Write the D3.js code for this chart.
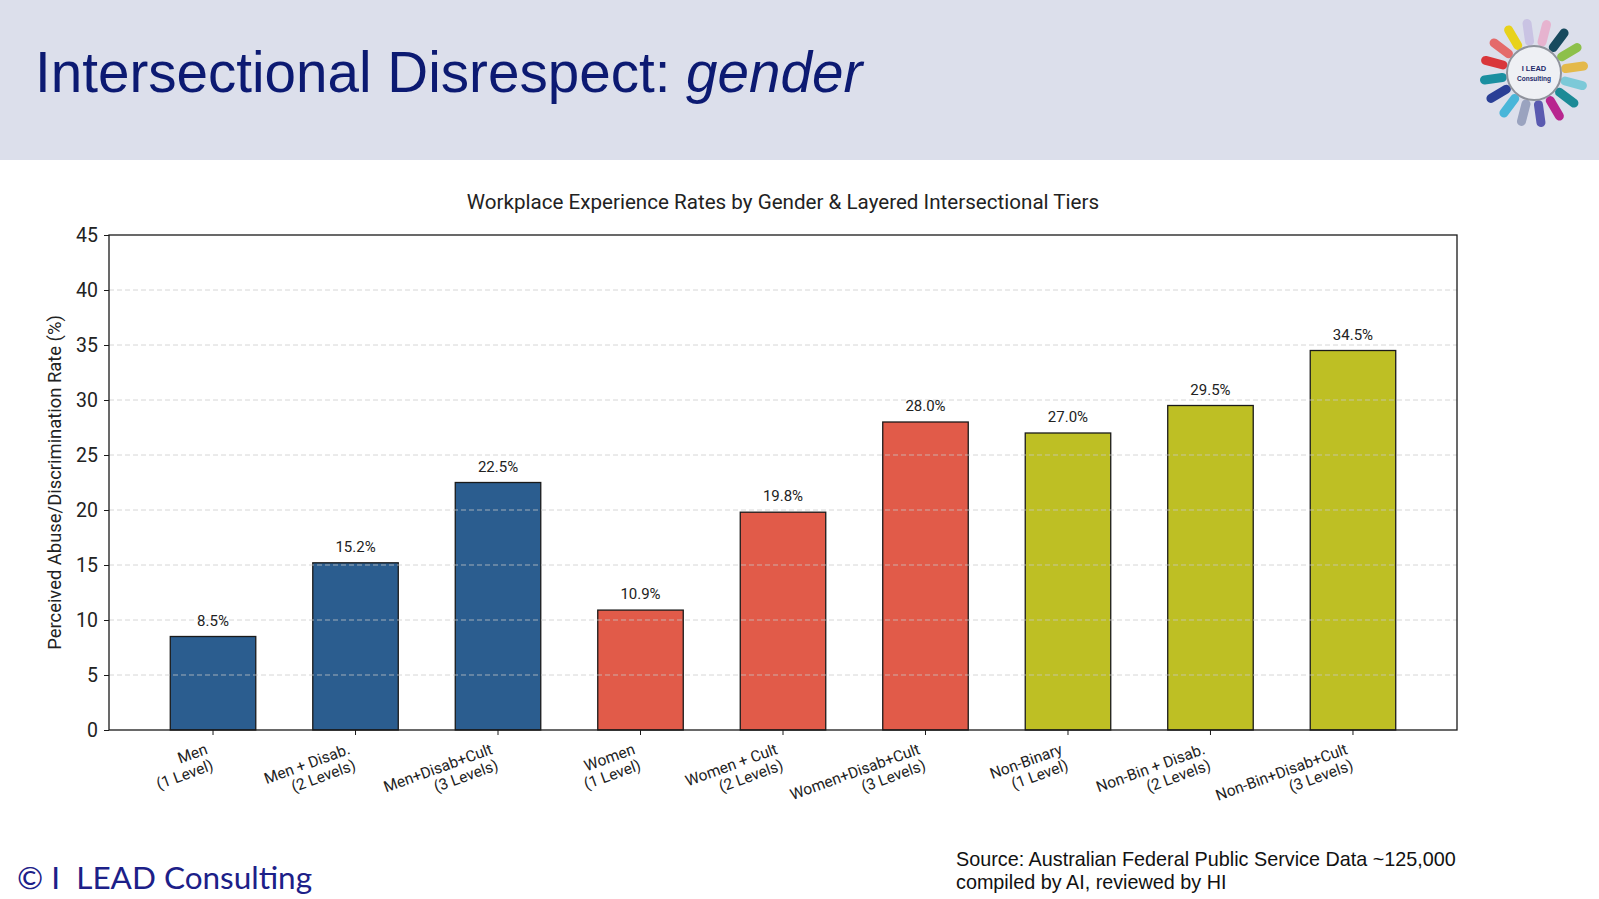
<!DOCTYPE html>
<html>
<head>
<meta charset="utf-8">
<script src="https://cdn.jsdelivr.net/npm/d3@7"></script>
<style>
  body { margin: 0; background: #fff; }
  svg { display: block; }
</style>
</head>
<body>
<svg id="chart" width="1599" height="899"></svg>
<script>
// categories (two-line tick labels) and values
var categories = [
  ["Men", "(1 Level)"],
  ["Men + Disab.", "(2 Levels)"],
  ["Men+Disab+Cult", "(3 Levels)"],
  ["Women", "(1 Level)"],
  ["Women + Cult", "(2 Levels)"],
  ["Women+Disab+Cult", "(3 Levels)"],
  ["Non-Binary", "(1 Level)"],
  ["Non-Bin + Disab.", "(2 Levels)"],
  ["Non-Bin+Disab+Cult", "(3 Levels)"]
];
var rates = [8.5, 15.2, 22.5, 10.9, 19.8, 28.0, 27.0, 29.5, 34.5];
var groups = ["Men", "Men", "Men", "Women", "Women", "Women", "Non-Binary", "Non-Binary", "Non-Binary"];
var groupColors = {"Men": "#2b5d8f", "Women": "#e15b49", "Non-Binary": "#bebf24"};
var yTicks = [0, 5, 10, 15, 20, 25, 30, 35, 40, 45];
var logoColors = ["#c9c3e3", "#e6b3cf", "#174a5e", "#8dc04a", "#e4b94a", "#7cc9d8", "#1b8a96", "#b8268f",
                  "#5a5ab0", "#9aa3bf", "#49b6d9", "#2a3f96", "#1a8fa0", "#d9363a", "#e46a6a", "#e8d21a"];

var svg = d3.select("#chart");
var chartFont = "Roboto, 'Open Sans', sans-serif";

// header band
svg.append("rect")
  .attr("x", 0).attr("y", 0)
  .attr("width", 1599).attr("height", 160)
  .attr("fill", "#dcdfeb");

var title = svg.append("text")
  .attr("x", 35).attr("y", 92)
  .attr("font-family", "'Liberation Sans', Arial, sans-serif")
  .attr("font-size", "56.6px")
  .attr("fill", "#0c1a72");
title.append("tspan").text("Intersectional Disrespect: ");
title.append("tspan").attr("font-style", "italic").text("gender");

// logo: ring of coloured strokes round a small circle
var logo = svg.append("g").attr("transform", "translate(1534,73)");
logo.selectAll(".ray")
  .data(logoColors)
  .enter().append("line")
    .attr("class", "ray")
    .attr("x1", function(d, i) { return 32 * Math.sin((-8 + i * 22.5) * Math.PI / 180); })
    .attr("y1", function(d, i) { return -32 * Math.cos((-8 + i * 22.5) * Math.PI / 180); })
    .attr("x2", function(d, i) { return 50 * Math.sin((-8 + i * 22.5) * Math.PI / 180); })
    .attr("y2", function(d, i) { return -50 * Math.cos((-8 + i * 22.5) * Math.PI / 180); })
    .attr("stroke", function(d) { return d; })
    .attr("stroke-width", 9)
    .attr("stroke-linecap", "round");
logo.append("circle")
  .attr("r", 27)
  .attr("fill", "#eef0f4")
  .attr("stroke", "#8f939c")
  .attr("stroke-width", 2);
logo.append("text")
  .attr("y", -2).attr("text-anchor", "middle")
  .attr("font-family", "'Liberation Sans', Arial, sans-serif")
  .attr("font-size", "7.5px").attr("font-weight", "bold")
  .attr("fill", "#1d2a6b")
  .text("I LEAD");
logo.append("text")
  .attr("y", 8).attr("text-anchor", "middle")
  .attr("font-family", "'Liberation Sans', Arial, sans-serif")
  .attr("font-size", "6.5px").attr("font-weight", "bold")
  .attr("fill", "#1d2a6b")
  .text("Consulting");

// plot area  (note: "top" is a reserved window global, so plotTop etc.)
var plotLeft = 109, plotRight = 1457, plotTop = 235, plotBottom = 730;
var x = d3.scaleLinear().domain([-0.73, 8.73]).range([plotLeft, plotRight]);
var y = d3.scaleLinear().domain([0, 45]).range([plotBottom, plotTop]);
var barW = x(0.6) - x(0);

svg.append("text")
  .attr("x", (plotLeft + plotRight) / 2).attr("y", 209)
  .attr("text-anchor", "middle")
  .attr("font-family", chartFont)
  .attr("font-size", "20.6px")
  .attr("fill", "#222")
  .text("Workplace Experience Rates by Gender & Layered Intersectional Tiers");

// bars
svg.selectAll(".bar")
  .data(rates)
  .enter().append("rect")
    .attr("class", "bar")
    .attr("x", function(d, i) { return x(i) - barW / 2; })
    .attr("y", function(d) { return y(d); })
    .attr("width", barW)
    .attr("height", function(d) { return plotBottom - y(d); })
    .attr("fill", function(d, i) { return groupColors[groups[i]]; })
    .attr("stroke", "#1a1a1a")
    .attr("stroke-width", 1.3);

// dashed grid sits over the bars
svg.selectAll(".grid")
  .data(yTicks.slice(1, -1))
  .enter().append("line")
    .attr("class", "grid")
    .attr("x1", plotLeft).attr("x2", plotRight)
    .attr("y1", function(d) { return y(d); })
    .attr("y2", function(d) { return y(d); })
    .attr("stroke", "#c8c8c8")
    .attr("stroke-opacity", 0.75)
    .attr("stroke-dasharray", "5,3")
    .attr("stroke-width", 1);

// value labels
svg.selectAll(".val")
  .data(rates)
  .enter().append("text")
    .attr("class", "val")
    .attr("x", function(d, i) { return x(i); })
    .attr("y", function(d) { return y(d) - 11; })
    .attr("text-anchor", "middle")
    .attr("font-family", chartFont)
    .attr("font-size", "15px")
    .attr("fill", "#222")
    .text(function(d) { return d.toFixed(1) + "%"; });

// frame
svg.append("rect")
  .attr("x", plotLeft).attr("y", plotTop)
  .attr("width", plotRight - plotLeft).attr("height", plotBottom - plotTop)
  .attr("fill", "none")
  .attr("stroke", "#1a1a1a")
  .attr("stroke-width", 1.3);

// y axis
var yAxis = svg.append("g")
  .attr("transform", "translate(" + plotLeft + ",0)")
  .call(d3.axisLeft(y).tickValues(yTicks).tickSize(5).tickPadding(6));
yAxis.select(".domain").remove();
yAxis.selectAll("line").attr("stroke", "#1a1a1a");
yAxis.selectAll("text")
  .attr("font-family", chartFont)
  .attr("font-size", "19.5px")
  .attr("fill", "#222");

svg.append("text")
  .attr("transform", "translate(61," + ((plotTop + plotBottom) / 2) + ") rotate(-90)")
  .attr("text-anchor", "middle")
  .attr("font-family", chartFont)
  .attr("font-size", "18.4px")
  .attr("fill", "#222")
  .text("Perceived Abuse/Discrimination Rate (%)");

// x ticks and rotated two-line labels
svg.selectAll(".xtick")
  .data(rates)
  .enter().append("line")
    .attr("class", "xtick")
    .attr("x1", function(d, i) { return x(i); })
    .attr("x2", function(d, i) { return x(i); })
    .attr("y1", plotBottom).attr("y2", plotBottom + 5)
    .attr("stroke", "#1a1a1a");

var xl = svg.selectAll(".xlab")
  .data(categories)
  .enter().append("text")
    .attr("class", "xlab")
    .attr("transform", function(d, i) { return "translate(" + (x(i) - 9) + "," + (plotBottom + 11) + ") rotate(-20)"; })
    .attr("text-anchor", "end")
    .attr("font-family", chartFont)
    .attr("font-size", "15.5px")
    .attr("fill", "#222");
xl.append("tspan").attr("x", 0).attr("dy", "0.85em").text(function(d) { return d[0]; });
xl.append("tspan").attr("x", 0).attr("dy", "1.1em").text(function(d) { return d[1]; });

// footer
svg.append("text")
  .attr("x", 17).attr("y", 889)
  .attr("font-family", "Lato, 'Open Sans', sans-serif")
  .attr("font-size", "31.5px")
  .attr("fill", "#1c2088")
  .style("white-space", "pre")
  .text("\u00a9 I  LEAD Consulting");

var src = svg.append("text")
  .attr("font-family", "'Liberation Sans', Arial, sans-serif")
  .attr("font-size", "19.8px")
  .attr("fill", "#111");
src.append("tspan").attr("x", 956).attr("y", 866).text("Source: Australian Federal Public Service Data ~125,000");
src.append("tspan").attr("x", 956).attr("y", 889).text("compiled by AI, reviewed by HI");
</script>
</body>
</html>
